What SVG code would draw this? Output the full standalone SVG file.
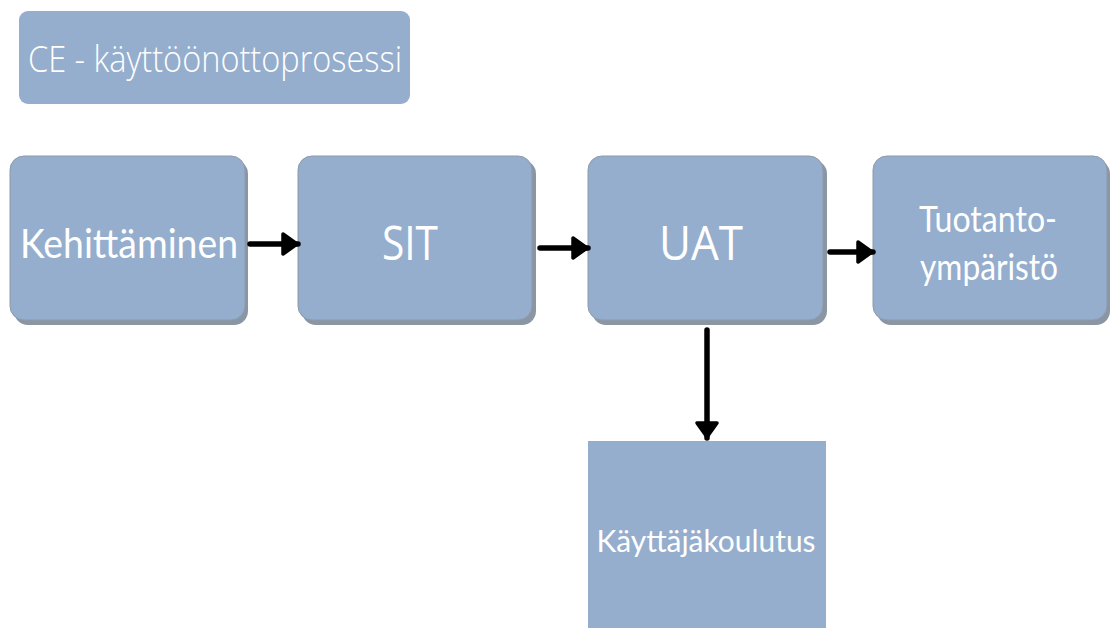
<svg xmlns="http://www.w3.org/2000/svg" width="1110" height="628" viewBox="0 0 1110 628">
  <style>
    .box { fill: #95aecd; stroke: #8e9aa8; stroke-width: 1; }
    .under { fill: #8a96a4; }
    .lbl { fill: #ffffff; font-family: Lato, "Open Sans", sans-serif; text-anchor: middle; }
    .os { fill: #ffffff; font-family: "Open Sans", sans-serif; text-anchor: middle; }
    .conn { stroke: #000000; stroke-width: 5.5; fill: none; stroke-linecap: round; }
  </style>
  <defs>
    <marker id="head" viewBox="0 0 20 26" refX="18" refY="13" markerWidth="20" markerHeight="26" orient="auto" markerUnits="userSpaceOnUse">
      <path d="M3,3 L17,13 L3,23 Z" fill="#000" stroke="#000" stroke-width="3.5" stroke-linejoin="round"/>
    </marker>
  </defs>
  <rect width="1110" height="628" fill="#ffffff"/>

  <g id="title">
    <rect x="19" y="11" width="391" height="93" rx="9" fill="#95aecd"/>
    <text class="os" x="215" y="72" font-size="37" font-weight="300" textLength="374" lengthAdjust="spacingAndGlyphs">CE - käyttöönottoprosessi</text>
  </g>

  <g id="kehittaminen">
    <rect class="under" x="14" y="160" width="234" height="165" rx="14"/>
    <rect class="box" x="10" y="156" width="235" height="164" rx="14"/>
    <text class="lbl" x="129" y="258" font-size="41" textLength="218" lengthAdjust="spacingAndGlyphs">Kehittäminen</text>
  </g>

  <g id="sit">
    <rect class="under" x="302" y="160" width="234" height="165" rx="14"/>
    <rect class="box" x="298" y="156" width="234" height="164" rx="14"/>
    <text class="os" x="410" y="260" font-size="48" textLength="56" lengthAdjust="spacingAndGlyphs">SIT</text>
  </g>

  <g id="uat">
    <rect class="under" x="592" y="160" width="235" height="165" rx="14"/>
    <rect class="box" x="588" y="156" width="235" height="164" rx="14"/>
    <text class="os" x="701" y="260" font-size="47" textLength="84" lengthAdjust="spacingAndGlyphs">UAT</text>
  </g>

  <g id="tuotantoymparisto">
    <rect class="under" x="877" y="160" width="233" height="165" rx="14"/>
    <rect class="box" x="873" y="156" width="234" height="164" rx="14"/>
    <text class="lbl" x="988" y="232" font-size="37" textLength="138" lengthAdjust="spacingAndGlyphs">Tuotanto-</text>
    <text class="lbl" x="989" y="280" font-size="37" textLength="138" lengthAdjust="spacingAndGlyphs">ympäristö</text>
  </g>

  <g id="kayttajakoulutus">
    <rect x="588" y="441" width="238" height="190" fill="#95aecd"/>
    <text class="lbl" x="706" y="552" font-size="31" textLength="219" lengthAdjust="spacingAndGlyphs">Käyttäjäkoulutus</text>
  </g>

  <g id="connectors">
    <line class="conn" x1="250" y1="244" x2="298" y2="244" marker-end="url(#head)"/>
    <line class="conn" x1="540" y1="248" x2="588" y2="248" marker-end="url(#head)"/>
    <line class="conn" x1="830" y1="252" x2="873" y2="252" marker-end="url(#head)"/>
    <line class="conn" x1="707" y1="330" x2="707" y2="438" marker-end="url(#head)"/>
  </g>
</svg>
